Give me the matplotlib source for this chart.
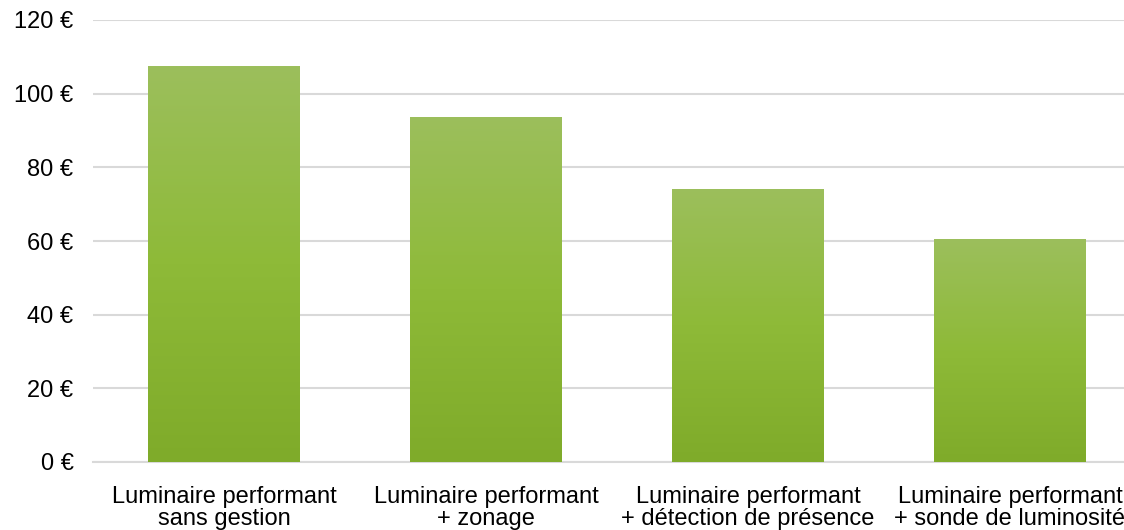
import numpy as np
import matplotlib
matplotlib.use('Agg')
import matplotlib.pyplot as plt
from matplotlib.colors import LinearSegmentedColormap

plt.rcParams['font.family'] = ['Liberation Sans', 'DejaVu Sans']

# Data
categories = ['Luminaire performant\nsans gestion',
              'Luminaire performant\n+ zonage',
              'Luminaire performant\n+ détection de présence',
              'Luminaire performant\n+ sonde de luminosité']
costs = [107.5, 93.7, 74.2, 60.5]
yticks = [0, 20, 40, 60, 80, 100, 120]

# vertical gradient of each bar, bottom -> top
cmap_bar = LinearSegmentedColormap.from_list(
    'bar_green', ['#7fab2a', '#8eba38', '#9cbf5c'])

fig = plt.figure(figsize=(11.24, 5.30), dpi=100)
# plot area runs a bit past the right border, as in the reference
ax = fig.add_axes([93 / 1124, 68 / 530, 1048 / 1124, 442 / 530])

x = np.arange(len(categories))
bars = ax.bar(x, costs, width=0.577, color='none', zorder=3)

grad = np.linspace(0, 1, 256).reshape(-1, 1)
for b in bars:
    x0, y0 = b.get_x(), b.get_y()
    w, h = b.get_width(), b.get_height()
    im = ax.imshow(grad, cmap=cmap_bar, origin='lower', aspect='auto',
                   extent=[x0, x0 + w, y0, y0 + h], zorder=3)
    im.set_clip_path(b)

ax.set_xlim(-0.5, len(categories) - 0.5)
ax.set_ylim(0, 120)
ax.set_yticks(yticks)
ax.set_yticklabels(['%d €' % v for v in yticks])
ax.set_xticks(x)
ax.set_xticklabels(categories, linespacing=1.0)

ax.yaxis.grid(True, color='#d9d9d9', linewidth=1.5, zorder=0)
ax.set_axisbelow(True)
for side in ['top', 'right', 'left']:
    ax.spines[side].set_visible(False)
ax.spines['bottom'].set_color('#d9d9d9')
ax.spines['bottom'].set_linewidth(1.5)
ax.tick_params(axis='both', length=0, labelsize=17, colors='black')
ax.tick_params(axis='y', pad=14)
ax.tick_params(axis='x', pad=17)

fig.savefig('out.png', dpi=100)
